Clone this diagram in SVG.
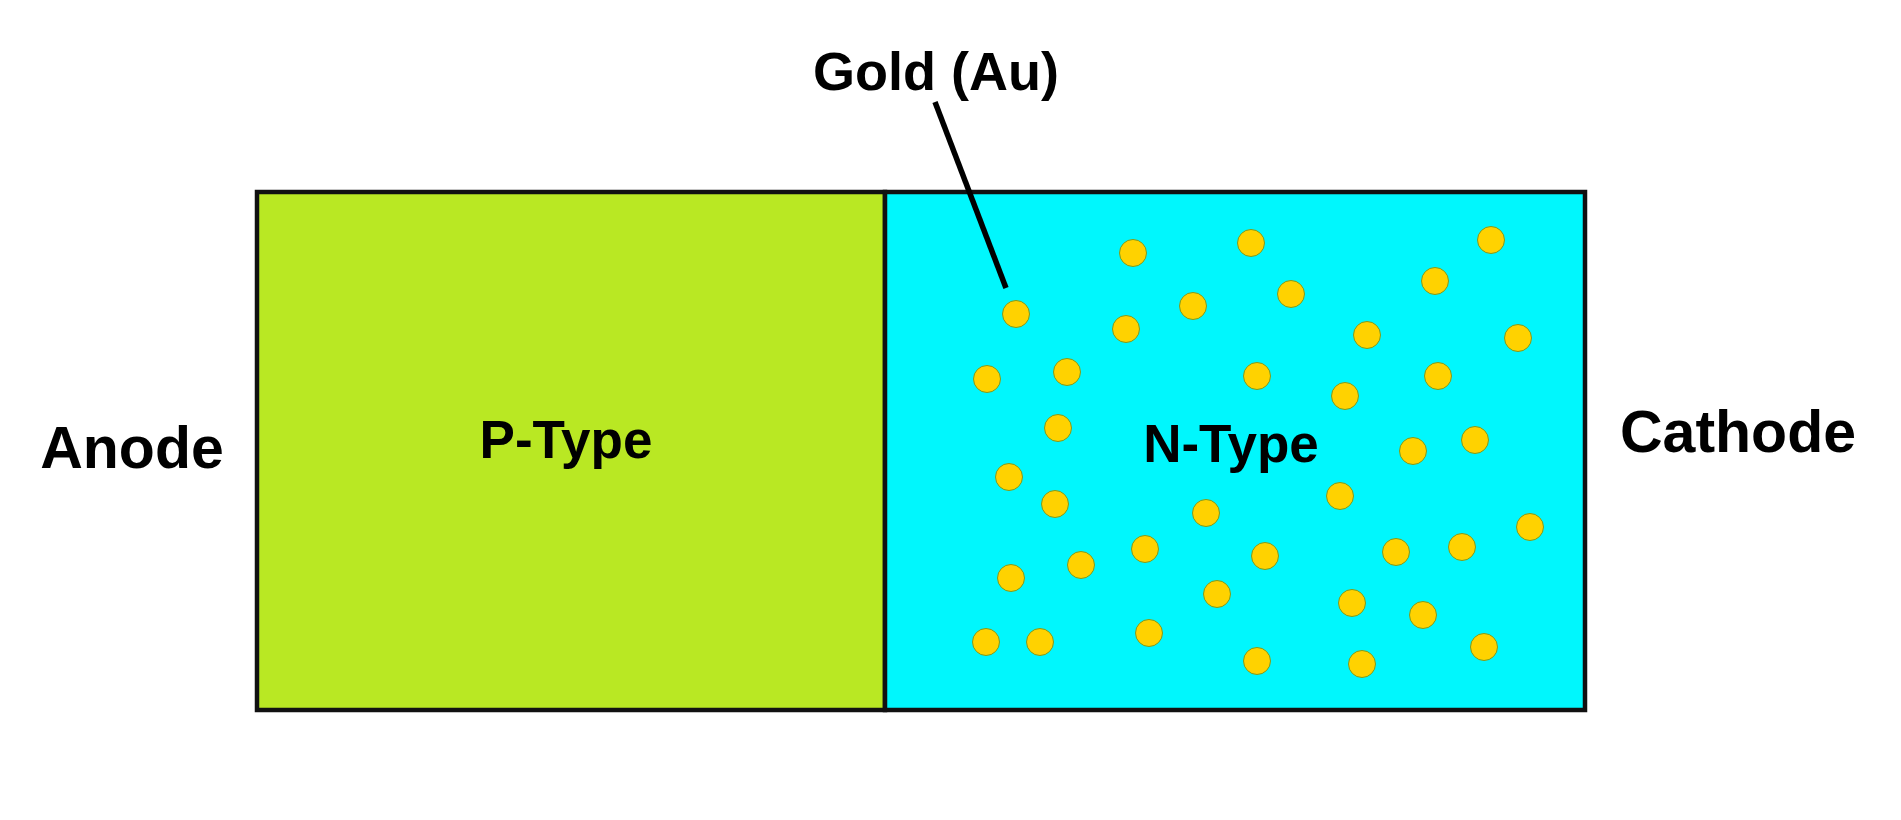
<svg xmlns="http://www.w3.org/2000/svg" width="1901" height="820" viewBox="0 0 1901 820">
<style>
.lbl{font-family:"Liberation Sans",Arial,sans-serif;font-weight:bold;fill:#000}
.au{fill:#ffd200;stroke:#7e9a1e;stroke-width:1}
.box{stroke:#111;stroke-width:4.5}
</style>
<defs><circle id="dot" r="13.5" class="au"/></defs>
<rect width="1901" height="820" fill="#fff"/>
<g id="p-type">
<rect class="box" x="257" y="192" width="628" height="518" fill="#b9e823"/>
<text class="lbl" x="566" y="458" font-size="53" text-anchor="middle">P-Type</text>
</g>
<g id="n-type">
<rect class="box" x="885" y="192" width="700" height="518" fill="#00f7fd"/>
<g id="gold-atoms">
<use href="#dot" x="1133" y="253"/><use href="#dot" x="1251" y="243"/><use href="#dot" x="1491" y="240"/>
<use href="#dot" x="1435" y="281"/><use href="#dot" x="1291" y="294"/><use href="#dot" x="1193" y="306"/>
<use href="#dot" x="1016" y="314"/><use href="#dot" x="1126" y="329"/><use href="#dot" x="1367" y="335"/>
<use href="#dot" x="1518" y="338"/><use href="#dot" x="1067" y="372"/><use href="#dot" x="987" y="379"/>
<use href="#dot" x="1257" y="376"/><use href="#dot" x="1438" y="376"/><use href="#dot" x="1345" y="396"/>
<use href="#dot" x="1058" y="428"/><use href="#dot" x="1475" y="440"/><use href="#dot" x="1413" y="451"/>
<use href="#dot" x="1009" y="477"/><use href="#dot" x="1340" y="496"/><use href="#dot" x="1055" y="504"/>
<use href="#dot" x="1206" y="513"/><use href="#dot" x="1530" y="527"/><use href="#dot" x="1145" y="549"/>
<use href="#dot" x="1265" y="556"/><use href="#dot" x="1396" y="552"/><use href="#dot" x="1462" y="547"/>
<use href="#dot" x="1081" y="565"/><use href="#dot" x="1011" y="578"/><use href="#dot" x="1217" y="594"/>
<use href="#dot" x="1352" y="603"/><use href="#dot" x="1423" y="615"/><use href="#dot" x="986" y="642"/>
<use href="#dot" x="1040" y="642"/><use href="#dot" x="1149" y="633"/><use href="#dot" x="1257" y="661"/>
<use href="#dot" x="1362" y="664"/><use href="#dot" x="1484" y="647"/>
</g>
<text class="lbl" x="1231" y="462" font-size="53" text-anchor="middle">N-Type</text>
</g>
<g id="connectors">
<line x1="935" y1="102" x2="1006" y2="288" stroke="#000" stroke-width="5.5"/>
</g>
<g id="gold-label"><text class="lbl" x="936" y="90" font-size="54" text-anchor="middle">Gold (Au)</text></g>
<g id="anode"><text class="lbl" x="132" y="468" font-size="59" text-anchor="middle">Anode</text></g>
<g id="cathode"><text class="lbl" x="1738" y="452" font-size="59" text-anchor="middle">Cathode</text></g>
</svg>
